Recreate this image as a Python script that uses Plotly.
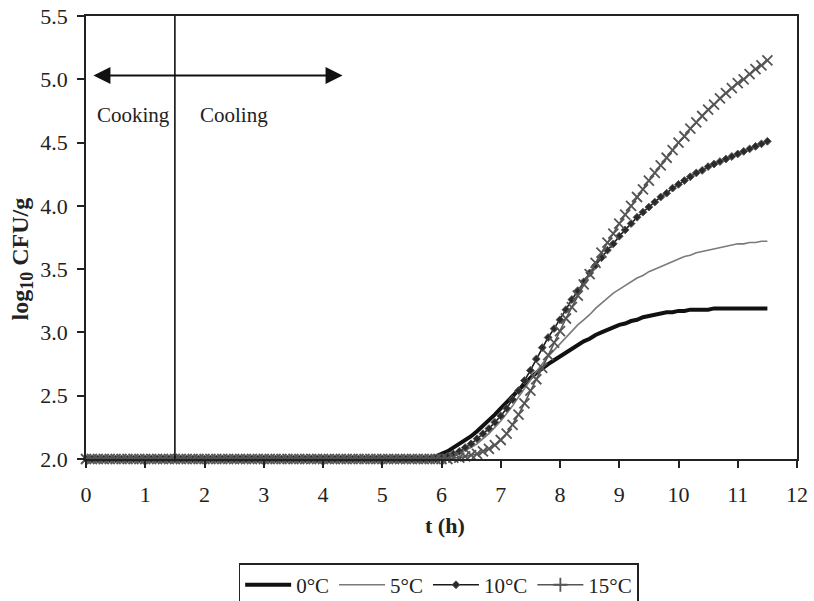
import plotly.graph_objects as go

# Sampling times (h), 0.1 h steps from 0 to 11.5
TIME_H = [round(0.1 * i, 1) for i in range(116)]

# Flat lag phase, 0.0 - 5.4 h, identical for all four storage temperatures
LAG_VALUES = [2.00] * 55

# log10 CFU/g from 5.5 h to 11.5 h (0.1 h steps)
TAIL_0C = [2.00, 2.00, 2.00, 2.01, 2.02, 2.04, 2.06, 2.09, 2.12, 2.15,
           2.18, 2.22, 2.26, 2.30, 2.35, 2.40, 2.45, 2.50, 2.55, 2.60,
           2.64, 2.68, 2.72, 2.75, 2.78, 2.81, 2.84, 2.87, 2.90, 2.93,
           2.95, 2.98, 3.00, 3.02, 3.04, 3.06, 3.07, 3.09, 3.10, 3.12,
           3.13, 3.14, 3.15, 3.16, 3.16, 3.17, 3.17, 3.18, 3.18, 3.18,
           3.18, 3.19, 3.19, 3.19, 3.19, 3.19, 3.19, 3.19, 3.19, 3.19, 3.19]
TAIL_5C = [2.00, 2.00, 2.00, 2.00, 2.00, 2.01, 2.02, 2.03, 2.05, 2.07,
           2.09, 2.12, 2.16, 2.20, 2.25, 2.30, 2.36, 2.42, 2.49, 2.56,
           2.63, 2.69, 2.75, 2.81, 2.86, 2.91, 2.96, 3.01, 3.06, 3.10,
           3.14, 3.19, 3.23, 3.27, 3.31, 3.34, 3.37, 3.40, 3.43, 3.45,
           3.48, 3.50, 3.52, 3.54, 3.56, 3.58, 3.60, 3.61, 3.63, 3.64,
           3.65, 3.66, 3.67, 3.68, 3.69, 3.70, 3.70, 3.71, 3.71, 3.72, 3.72]
TAIL_10C = [2.00, 2.00, 2.00, 2.00, 2.00, 2.01, 2.02, 2.04, 2.06, 2.09,
            2.12, 2.16, 2.20, 2.24, 2.29, 2.34, 2.40, 2.47, 2.54, 2.62,
            2.70, 2.79, 2.88, 2.96, 3.03, 3.10, 3.18, 3.26, 3.33, 3.40,
            3.47, 3.53, 3.59, 3.65, 3.70, 3.76, 3.81, 3.86, 3.91, 3.95,
            3.99, 4.03, 4.07, 4.10, 4.14, 4.17, 4.20, 4.23, 4.26, 4.28,
            4.31, 4.33, 4.35, 4.37, 4.39, 4.41, 4.43, 4.45, 4.47, 4.49, 4.51]
TAIL_15C = [2.00, 2.00, 2.00, 2.00, 2.00, 2.00, 2.00, 2.01, 2.01, 2.02,
            2.03, 2.04, 2.06, 2.08, 2.11, 2.15, 2.20, 2.27, 2.35, 2.44,
            2.54, 2.63, 2.72, 2.82, 2.92, 3.01, 3.11, 3.20, 3.29, 3.38,
            3.46, 3.55, 3.63, 3.71, 3.78, 3.86, 3.93, 4.00, 4.07, 4.13,
            4.20, 4.26, 4.32, 4.38, 4.44, 4.50, 4.55, 4.61, 4.66, 4.71,
            4.76, 4.80, 4.85, 4.89, 4.93, 4.97, 5.00, 5.04, 5.08, 5.11, 5.15]

LOG_0C = LAG_VALUES + TAIL_0C
LOG_5C = LAG_VALUES + TAIL_5C
LOG_10C = LAG_VALUES + TAIL_10C
LOG_15C = LAG_VALUES + TAIL_15C

SERIES_NAMES = ["0°C", "5°C", "10°C", "15°C"]
X_TICKS = list(range(0, 13))
Y_TICKS = [2.0, 2.5, 3.0, 3.5, 4.0, 4.5, 5.0, 5.5]

# Phase boundary and phase arrow
COOK_END_H = 1.5
ARROW_START_H = 0.1
ARROW_END_H = 4.33
ARROW_LEVEL = 5.03

FONT = "Liberation Serif"
INK = "#222222"

fig = go.Figure()

fig.add_trace(go.Scatter(
    x=TIME_H, y=LOG_0C, mode="lines", name=SERIES_NAMES[0],
    line=dict(color="#111111", width=4), cliponaxis=False))
fig.add_trace(go.Scatter(
    x=TIME_H, y=LOG_5C, mode="lines", name=SERIES_NAMES[1],
    line=dict(color="#7a7a7a", width=1.6), cliponaxis=False))
fig.add_trace(go.Scatter(
    x=TIME_H, y=LOG_10C, mode="lines+markers", name=SERIES_NAMES[2],
    line=dict(color="#1a1a1a", width=1.6),
    marker=dict(symbol="diamond", size=6, color="#2a2a2a",
                line=dict(color="#555555", width=1)),
    cliponaxis=False))
fig.add_trace(go.Scatter(
    x=TIME_H, y=LOG_15C, mode="lines+markers", name=SERIES_NAMES[3],
    line=dict(color="#555555", width=1.6),
    marker=dict(symbol="x-thin", size=10, color="#555555",
                line=dict(color="#555555", width=1.8)),
    cliponaxis=False, showlegend=False))
# legend entry for 15°C drawn with an upright cross
fig.add_trace(go.Scatter(
    x=[None], y=[None], mode="lines+markers", name=SERIES_NAMES[3],
    line=dict(color="#555555", width=1.6),
    marker=dict(symbol="cross-thin", size=10, color="#555555",
                line=dict(color="#555555", width=1.8))))

# cooking / cooling boundary
fig.add_shape(type="line", x0=COOK_END_H, x1=COOK_END_H, y0=2.0, y1=5.5,
              xref="x", yref="y", line=dict(color="#111111", width=1.6))

fig.add_annotation(x=ARROW_END_H, y=ARROW_LEVEL, ax=ARROW_START_H, ay=ARROW_LEVEL,
                   xref="x", yref="y", axref="x", ayref="y", text="",
                   showarrow=True, arrowhead=2, startarrowhead=2,
                   arrowside="end+start", arrowsize=1.7, startarrowsize=1.7,
                   arrowwidth=2, arrowcolor="#111111")

fig.add_annotation(x=0.8, y=4.72, xref="x", yref="y", text="Cooking",
                   showarrow=False, font=dict(family=FONT, size=21, color=INK))
fig.add_annotation(x=2.5, y=4.72, xref="x", yref="y", text="Cooling",
                   showarrow=False, font=dict(family=FONT, size=21, color=INK))

# axis titles
fig.add_annotation(x=-0.0894, y=0.4515, xref="paper", yref="paper",
                   xanchor="center", yanchor="middle",
                   text="<b>log<sub><span style='font-size:18px'>10</span></sub> CFU/g</b>",
                   textangle=-90,
                   showarrow=False, font=dict(family=FONT, size=24, color=INK))
fig.add_annotation(x=0.505, y=-0.149, xref="paper", yref="paper",
                   xanchor="center", yanchor="middle",
                   text="<b>t (h)</b>", showarrow=False,
                   font=dict(family=FONT, size=22, color=INK))

axis_common = dict(showgrid=False, zeroline=False, showline=True,
                   linecolor=INK, linewidth=1.5, mirror=True,
                   ticks="outside", ticklen=7, tickwidth=1.5, tickcolor=INK,
                   tickfont=dict(family=FONT, size=22, color=INK))

fig.update_xaxes(range=[0, 12], tickvals=X_TICKS, ticklabelstandoff=8,
                 ticktext=[str(v) for v in X_TICKS], **axis_common)
fig.update_yaxes(range=[2.0, 5.5], tickvals=Y_TICKS, ticklabelstandoff=5,
                 ticktext=[f"{v:.1f}" for v in Y_TICKS], **axis_common)

fig.update_layout(
    width=814, height=601,
    margin=dict(l=86, r=17, t=16, b=142, autoexpand=False),
    plot_bgcolor="white", paper_bgcolor="white",
    font=dict(family=FONT, size=20, color=INK),
    legend=dict(orientation="h", x=0.496, xanchor="center", y=-0.235, yanchor="top",
                bordercolor=INK, borderwidth=1.5,
                font=dict(family=FONT, size=21, color=INK),
                itemwidth=46, tracegroupgap=0),
    showlegend=True,
)

fig.write_html("out.html")
